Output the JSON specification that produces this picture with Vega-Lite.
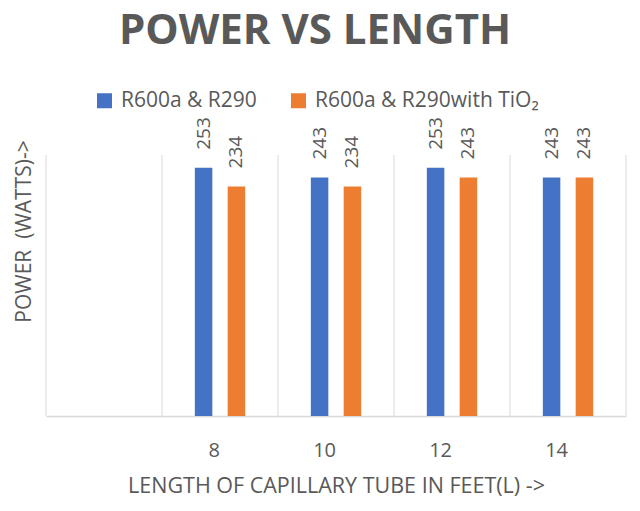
{
  "$schema": "https://vega.github.io/schema/vega-lite/v6.json",
  "width": 580,
  "height": 261,
  "autosize": {"type": "none"},
  "padding": {"left": 46, "top": 155, "right": 14, "bottom": 95},
  "background": "white",
  "config": {"font": "Open Sans", "view": {"stroke": null}},
  "title": {
    "text": "POWER VS LENGTH",
    "fontSize": 42,
    "fontWeight": "bold",
    "color": "#595959",
    "anchor": "middle",
    "frame": "group",
    "dx": -21,
    "dy": -33
  },
  "datasets": {
    "bars": [
      {"L": "8", "series": "R600a & R290", "P": 253},
      {"L": "8", "series": "R600a & R290with TiO₂", "P": 234},
      {"L": "10", "series": "R600a & R290", "P": 243},
      {"L": "10", "series": "R600a & R290with TiO₂", "P": 234},
      {"L": "12", "series": "R600a & R290", "P": 253},
      {"L": "12", "series": "R600a & R290with TiO₂", "P": 243},
      {"L": "14", "series": "R600a & R290", "P": 243},
      {"L": "14", "series": "R600a & R290with TiO₂", "P": 243}
    ],
    "cats": [{"L": ""}, {"L": "8"}, {"L": "10"}, {"L": "12"}, {"L": "14"}]
  },
  "layer": [
    {
      "data": {"name": "cats"},
      "mark": {"type": "rule", "color": "#d9d9d9", "strokeWidth": 1},
      "encoding": {
        "x": {"field": "L", "type": "nominal", "bandPosition": 0,
              "scale": {"domain": ["", "8", "10", "12", "14"], "paddingInner": 0, "paddingOuter": 0}}
      }
    },
    {
      "data": {"name": "cats"},
      "transform": [{"filter": "datum.L == '14'"}],
      "mark": {"type": "rule", "color": "#d9d9d9", "strokeWidth": 1},
      "encoding": {
        "x": {"field": "L", "type": "nominal", "bandPosition": 1}
      }
    },
    {
      "data": {"name": "bars"},
      "mark": {"type": "bar"},
      "encoding": {
        "x": {"field": "L", "type": "nominal",
              "axis": {"title": "LENGTH OF CAPILLARY TUBE IN FEET(L) ->", "labelAngle": 0, "labelFontSize": 20,
                       "labelColor": "#595959", "ticks": false, "tickSize": 0, "labelPadding": 34,
                       "domainColor": "#d9d9d9", "domainWidth": 1.5, "grid": false,
                       "titleFontSize": 21.5, "titleFontWeight": "normal", "titleColor": "#595959",
                       "titleBaseline": "alphabetic", "titleY": 76}},
        "xOffset": {"field": "series", "type": "nominal",
                    "scale": {"paddingInner": 0.4667, "paddingOuter": 1.1667}},
        "y": {"field": "P", "type": "quantitative",
              "scale": {"domain": [0, 266], "nice": false},
              "axis": {"title": "POWER\u00a0\u00a0(WATTS)->", "labels": false, "ticks": false, "grid": false, "domain": false,
                       "titleFontSize": 21, "titleFontWeight": "normal", "titleColor": "#595959",
                       "titleAngle": 270, "titleAlign": "center", "titleBaseline": "middle",
                       "titleX": -22, "titleY": 76}},
        "color": {"field": "series", "type": "nominal",
                  "scale": {"domain": ["R600a & R290", "R600a & R290with TiO₂"], "range": ["#4472C4", "#ED7D31"]},
                  "legend": {"title": null, "orient": "none", "direction": "horizontal",
                             "legendX": 48, "legendY": -65, "padding": 0,
                             "symbolType": "square", "symbolSize": 225, "symbolStrokeWidth": 0,
                             "labelFontSize": 21, "labelColor": "#595959", "labelOffset": 6, "labelLimit": 0,
                             "columnPadding": 31}}
      }
    },
    {
      "data": {"name": "bars"},
      "mark": {"type": "text", "angle": 270, "align": "left", "baseline": "middle", "dx": 18,
               "fontSize": 19, "color": "#595959"},
      "encoding": {
        "x": {"field": "L", "type": "nominal"},
        "xOffset": {"field": "series", "type": "nominal"},
        "y": {"field": "P", "type": "quantitative"},
        "text": {"field": "P", "type": "quantitative"}
      }
    }
  ]
}
